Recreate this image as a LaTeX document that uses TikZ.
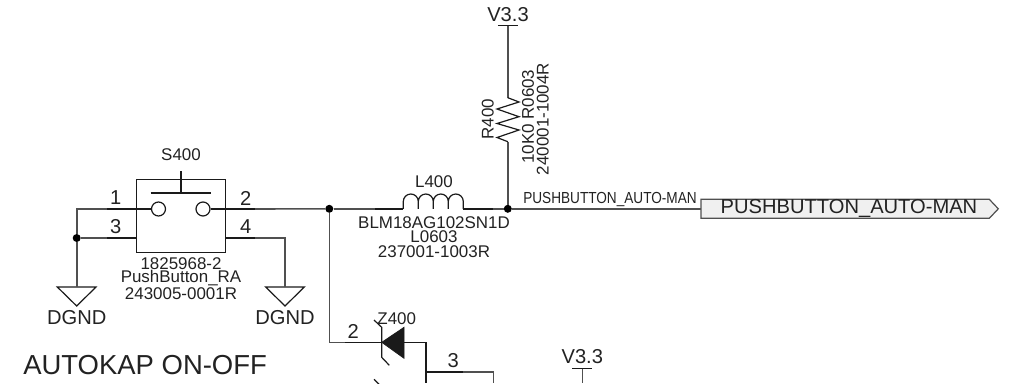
\documentclass[tikz,border=0pt]{standalone}
\usepackage{fontspec}
\setmainfont{Liberation Sans}
\newfontfamily\condf[FakeStretch=0.85]{Liberation Sans}
\definecolor{wire}{HTML}{505050}
\definecolor{pin}{HTML}{1A1A1A}
\definecolor{ink}{HTML}{222222}
\tikzset{
 x=0.75pt,y=-0.75pt,
 wirel/.style={draw=wire,line width=1.2pt},
 pinl/.style={draw=pin,line width=1.2pt},
 partl/.style={draw=pin,line width=0.9pt},
 jn/.style={circle,fill=black,inner sep=0pt,minimum size=6pt},
 txt/.style={inner sep=0pt,text=ink},
 parttext/.style={txt,font=\fontsize{12.7pt}{12.7pt}\selectfont},
 pintext/.style={txt,font=\fontsize{15.1pt}{15.1pt}\selectfont},
}
\begin{document}
\begin{tikzpicture}
\useasboundingbox (0,0) rectangle (1015,383);
\clip (0,0) rectangle (1015,383);
% switch
\node[draw=pin,line width=0.9pt,inner sep=0pt,minimum width=66.9pt,minimum height=55.3pt] (sw) at (180.7,216) {};
\coordinate (pl) at (181,171);
\coordinate (pb) at (181,193);
\draw[partl] (pl) -- (pb);
\draw[partl] (150.7,193) -- (211,193);
\node[circle,draw=pin,line width=0.9pt,inner sep=0pt,minimum size=10.5pt] (c1) at (158.5,209) {};
\node[circle,draw=pin,line width=0.9pt,inner sep=0pt,minimum size=10.5pt] (c2) at (203,209) {};
\node[parttext] (s400) at (181,155) {S400};
\node[parttext] (sa) at (181,263.5) {1825968-2};
\node[parttext] (sb) at (181,278.5) {PushButton\_RA};
\node[parttext] (sc) at (181,293.5) {243005-0001R};
% nodes
\node[jn] (j1) at (76.7,238) {};
\node[jn] (j2) at (329.3,208.8) {};
\node[jn] (j3) at (507.8,208.8) {};
\coordinate (a1) at (107,209);
\coordinate (a3) at (107,238);
\coordinate (a2) at (254.5,209);
\coordinate (a4) at (254.5,238);
\coordinate (t1) at (76.7,209);
\coordinate (t4) at (285,238);
% ground
\coordinate (g1) at (76.7,287);
\coordinate (g2) at (285,287);
\draw[partl] (57.3,287) -- (96,287) -- (76.7,306) -- cycle;
\draw[partl] (265.7,287) -- (304.3,287) -- (285,306) -- cycle;
\node[pintext] (d1) at (76.7,318) {DGND};
\node[pintext] (d2) at (285,318) {DGND};
% wires
\draw[wirel] (a1) -- (t1) -- (j1) -- (g1);
\draw[wirel] (j1) -- (a3);
\draw[wirel] (a4) -- (t4) -- (g2);
\draw[wirel] (a2) -- (j2);
\draw[pinl] (a1) -- (c1.west);
\draw[pinl] (c2.east) -- (a2);
\draw[pinl] (a3) -- (136,238);
\draw[pinl] (225.3,238) -- (a4);
\node[pintext] (n1) at (115.7,198) {1};
\node[pintext] (n3) at (115.7,227) {3};
\node[pintext] (n2) at (245.7,198) {2};
\node[pintext] (n4) at (245.7,227) {4};
\node[txt,font=\fontsize{20.6pt}{20.6pt}\selectfont,anchor=west] (title) at (23,365) {AUTOKAP ON-OFF};
% inductor
\coordinate (l1) at (375,208.8);
\coordinate (l2) at (403.3,208.8);
\coordinate (l3) at (463.3,208.8);
\coordinate (l4) at (492.5,208.8);
\draw[wirel] (j2) -- (l1);
\draw[pinl] (l1) -- (l2);
\draw[pinl] (l3) -- (l4);
\draw[wirel] (l4) -- (j3);
\draw[partl] (l2) -- ++(0,-7.3) arc[start angle=180,end angle=0,radius=5.625pt] -- ++(0,7.3)
  -- ++(0,-7.3) arc[start angle=180,end angle=0,radius=5.625pt] -- ++(0,7.3)
  -- ++(0,-7.3) arc[start angle=180,end angle=0,radius=5.625pt] -- ++(0,7.3)
  -- ++(0,-7.3) arc[start angle=180,end angle=0,radius=5.625pt] -- ++(0,7.3);
\node[parttext] (li) at (434,181.7) {L400};
\node[parttext] (lb) at (434,222.7) {BLM18AG102SN1D};
\node[parttext] (lc) at (434,237) {L0603};
\node[parttext] (ld) at (434,252) {237001-1003R};
% resistor
\coordinate (vt) at (507.8,25.7);
\coordinate (rt) at (507.8,97.7);
\coordinate (rb) at (507.8,141.7);
\draw[partl] (497.8,25.7) -- (517.8,25.7);
\draw[wirel] (vt) -- (rt);
\draw[wirel] (rb) -- (j3);
\draw[partl] (rt) -- (519,102) -- (497,109) -- (519,116.7) -- (497,123.5) -- (519,130) -- (497,137.5) -- (rb);
\node[pintext] (v1) at (508,15) {V3.3};
\node[parttext,rotate=90] (r1) at (487.7,119) {R400};
\node[parttext,rotate=90] (r2) at (528,116.7) {10K0 R0603};
\node[parttext,rotate=90] (r3) at (542.7,119) {240001-1004R};
% net + port
\node[txt,font=\condf\fontsize{12pt}{12pt}\selectfont] (net) at (610,199.3) {PUSHBUTTON\_AUTO-MAN};
\coordinate (pa) at (701,208.8);
\draw[wirel] (j3) -- (pa);
\draw[draw=wire,fill=black!6,line width=0.9pt] (701,199.3) -- (989.3,199.3) -- (998.3,208.8) -- (989.3,218.3) -- (701,218.3) -- cycle;
\node[pintext] (port) at (849,208.8) {PUSHBUTTON\_AUTO-MAN};
% zener
\coordinate (zc) at (381.7,342.3);
\coordinate (zb) at (404,342.3);
\coordinate (z1) at (345,342.3);
\coordinate (z0) at (329.3,342.3);
\coordinate (zr) at (426,342.3);
\draw[wirel] (j2) -- (z0) -- (z1);
\draw[pinl] (z1) -- (zc);
\draw[fill=pin,draw=pin,line width=0.5pt] (zc) -- (404,327.3) -- (404,358.3) -- cycle;
\draw[partl] (374,320) -- (381.7,327.3) -- (381.7,357.3) -- (389.3,365.3);
\draw[pinl] (zb) -- (zr) -- (426,383);
\coordinate (w1) at (426,372);
\coordinate (w2) at (463,372);
\coordinate (w3) at (493.3,372);
\draw[pinl] (w1) -- (w2);
\draw[wirel] (w2) -- (w3) -- (493.3,383);
\draw[partl] (374,379.3) -- (381.7,387);
\node[parttext] (z) at (396.7,318.3) {Z400};
\node[pintext] (p2) at (353.3,331.7) {2};
\node[pintext] (p3) at (453.3,361) {3};
\node[pintext] (v2) at (582.3,356.7) {V3.3};
\draw[partl] (572.3,368.7) -- (592.3,368.7);
\coordinate (v2t) at (582.3,368.7);
\draw[wirel] (v2t) -- (582.3,383);
\end{tikzpicture}
\end{document}
